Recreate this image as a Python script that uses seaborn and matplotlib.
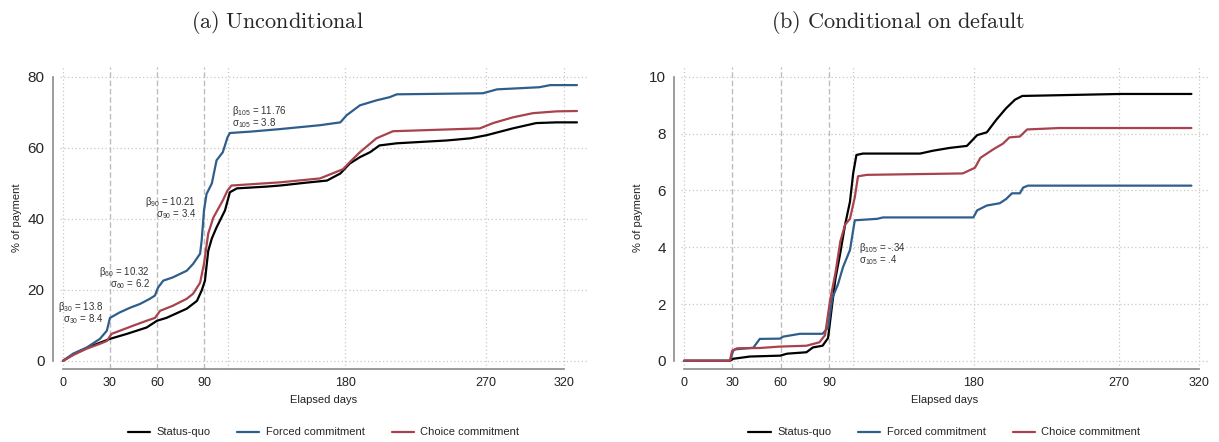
import numpy as np
import pandas as pd
import matplotlib
matplotlib.use("Agg")
import matplotlib.pyplot as plt
from matplotlib.lines import Line2D
import seaborn as sns

# ---------------- data ----------------
series_names = ["Status-quo", "Forced commitment", "Choice commitment"]
panel_titles = ["(a) Unconditional", "(b) Conditional on default"]
x_ticks = [0, 30, 60, 90, 180, 270, 320]

# Panel (a): unconditional
sq_a_days = [0, 8, 16, 23.6, 30, 40.8, 53.4, 60, 66, 79, 85.5, 88.5, 90.6, 92.7, 95, 98, 103.4,
             106.5, 111, 130, 138.5, 155, 168.5, 177, 183, 189.5, 196, 202, 213, 245, 260, 270.5,
             287, 302, 315, 328]
sq_a_pct = [0, 2.2, 3.8, 5.1, 6.2, 7.6, 9.4, 11.3, 12.1, 14.7, 16.9, 19.8, 22.6, 31, 34.5, 37.6, 42.4,
            47.5, 48.6, 49.1, 49.4, 50.2, 50.8, 52.8, 55.6, 57.4, 58.8, 60.7, 61.3, 62.1, 62.7, 63.6,
            65.5, 67.0, 67.2, 67.2]

fc_a_days = [0, 6.4, 15, 23.6, 28, 30, 36, 43, 49, 55.5, 58.7, 60.6, 64, 70, 79, 83, 87.5, 88.5, 90,
             91.6, 95, 98, 102, 105, 106.5, 120, 138.5, 164, 177, 181, 189.5, 200, 208.5, 213, 268,
             277, 304, 311, 328]
fc_a_pct = [0, 2.0, 3.7, 6.2, 8.5, 12.1, 13.6, 15.0, 16.0, 17.5, 18.4, 20.6, 22.6, 23.5, 25.4, 27.3,
            30.2, 33.9, 42.4, 47, 50, 56.5, 58.8, 63, 64.2, 64.6, 65.3, 66.4, 67.2, 69.2, 72, 73.4,
            74.3, 75.1, 75.4, 76.5, 77.1, 77.7, 77.7]

cc_a_days = [0, 6.4, 15, 23.6, 28, 31, 36.4, 44.7, 53.4, 58.7, 62, 70, 79, 83, 87.5, 90, 92.7, 96,
             102, 105, 107.5, 138.5, 164, 178.7, 183, 189.5, 200, 210.6, 266, 274.5, 287, 300, 315, 328]
cc_a_pct = [0, 1.6, 3.4, 4.8, 5.6, 7.6, 8.5, 9.9, 11.3, 12.1, 14.1, 15.5, 17.5, 18.9, 22, 27.4, 35.9,
            40.4, 45.2, 48, 49.4, 50.3, 51.4, 54, 56, 58.8, 62.7, 64.7, 65.5, 67, 68.6, 69.8, 70.3, 70.4]

# Panel (b): conditional on default
sq_b_days = [0, 28.5, 30.5, 41, 59.6, 64, 76, 80, 86, 89.4, 92, 94, 97, 100, 103, 105, 107, 111,
             146.5, 154.5, 165, 175.6, 182, 188, 194, 200, 205.5, 210, 271, 315]
sq_b_pct = [0, 0, 0.07, 0.15, 0.18, 0.25, 0.3, 0.47, 0.53, 0.8, 2.0, 2.9, 3.8, 4.8, 5.6, 6.6, 7.25,
            7.3, 7.3, 7.4, 7.5, 7.57, 7.95, 8.05, 8.5, 8.9, 9.2, 9.33, 9.4, 9.4]

fc_b_days = [0, 28.5, 30.5, 31.6, 43, 47, 59.6, 61.5, 72, 86, 89.4, 92, 95.6, 98.7, 103, 106, 119.8,
             123.5, 179.6, 182, 188, 196, 200, 203.6, 208.5, 210.5, 213.5, 315]
fc_b_pct = [0, 0, 0.35, 0.4, 0.46, 0.77, 0.78, 0.85, 0.95, 0.95, 1.17, 2.2, 2.7, 3.3, 3.9, 4.95, 5.0,
            5.05, 5.05, 5.3, 5.47, 5.55, 5.7, 5.9, 5.9, 6.1, 6.17, 6.17]

cc_b_days = [0, 28.5, 29.8, 33, 47, 59.6, 76, 84, 87.5, 90.6, 94, 97, 100, 103, 106, 108, 113.5, 173,
             180.6, 184, 192, 198, 202, 208.5, 213, 233, 315]
cc_b_pct = [0, 0, 0.35, 0.44, 0.45, 0.5, 0.53, 0.65, 0.9, 2.1, 3.1, 4.2, 4.8, 5.0, 5.76, 6.5, 6.55,
            6.6, 6.8, 7.15, 7.45, 7.65, 7.87, 7.9, 8.15, 8.2, 8.2]

# annotations: (x, y-center, two-line text, alignment)
ann_a = [(25.5, 13.45, "β$_{30}$ = 13.8\nσ$_{30}$ = 8.4", "right"),
         (55.5, 23.35, "β$_{60}$ = 10.32\nσ$_{60}$ = 6.2", "right"),
         (84.9, 43.05, "β$_{90}$ = 10.21\nσ$_{90}$ = 3.4", "right"),
         (107.8, 68.6, "β$_{105}$ = 11.76\nσ$_{105}$ = 3.8", "left")]
ann_b = [(108.6, 3.75, "β$_{105}$ = -.34\nσ$_{105}$ = .4", "left")]

# ---------------- styling ----------------
sns.set_theme(style="white")
plt.rcParams["font.family"] = ["Liberation Sans", "DejaVu Sans"]
plt.rcParams["mathtext.fontset"] = "custom"
plt.rcParams["mathtext.rm"] = "Liberation Sans"
plt.rcParams["mathtext.it"] = "Liberation Sans"
plt.rcParams["mathtext.default"] = "regular"

colors = {"Status-quo": "#000000", "Forced commitment": "#2f5e8c", "Choice commitment": "#a8424c"}
GRID = "#c8c8c8"
SPINE = "#8a8a8a"

W, H = 1219, 442
fig = plt.figure(figsize=(W / 100, H / 100), dpi=100)
ax_a = fig.add_axes([60 / W, 1 - 369 / H, 527 / W, 302 / H])
ax_b = fig.add_axes([681 / W, 1 - 369 / H, 527 / W, 302 / H])


def make_df(days_list, pct_list):
    frames = []
    for name, d, p in zip(series_names, days_list, pct_list):
        frames.append(pd.DataFrame({"day": d, "pct": p, "group": name}))
    return pd.concat(frames, ignore_index=True)


df_a = make_df([sq_a_days, fc_a_days, cc_a_days], [sq_a_pct, fc_a_pct, cc_a_pct])
df_b = make_df([sq_b_days, fc_b_days, cc_b_days], [sq_b_pct, fc_b_pct, cc_b_pct])

panels = [
    (ax_a, df_a, [0, 20, 40, 60, 80], (-1.9, 334.4), (-2.3, 82.8), ann_a),
    (ax_b, df_b, [0, 2, 4, 6, 8, 10], (-1.9, 325.3), (-0.29, 10.35), ann_b),
]

for ax, df, yticks, xlim, ylim, anns in panels:
    # grid
    for xt in [0, 105, 180, 270, 320]:
        ax.axvline(xt, color=GRID, lw=0.9, ls=(0, (1, 2)), zorder=0)
    for yt in yticks:
        ax.axhline(yt, color=GRID, lw=0.9, ls=(0, (1, 2)), zorder=0)
    for xt in [30, 60, 90]:
        ax.axvline(xt, color="#bdbdbd", lw=1.0, ls=(0, (4, 2)), zorder=0)

    sns.lineplot(data=df, x="day", y="pct", hue="group", hue_order=series_names,
                 palette=colors, linewidth=1.6, ax=ax, legend=False, sort=True,
                 estimator=None, zorder=3)

    for x, y, t, ha in anns:
        ax.text(x, y, t, ha=ha, va="center", multialignment=ha, fontsize=7,
                linespacing=0.8, color="#333333")

    ax.set_xlim(*xlim)
    ax.set_ylim(*ylim)
    ax.set_xticks(x_ticks)
    ax.set_yticks(yticks)
    ax.set_xticklabels([str(v) for v in x_ticks], fontsize=9, color="#222222")
    ax.set_yticklabels([str(v) for v in yticks], fontsize=9, color="#222222")
    ax.set_xlabel("Elapsed days", fontsize=8, color="#222222", labelpad=4)
    ax.set_ylabel("% of payment", fontsize=8, color="#222222", labelpad=4)
    ax.grid(False)

    for s in ["top", "right"]:
        ax.spines[s].set_visible(False)
    ax.spines["left"].set_position(("outward", 5))
    ax.spines["left"].set_bounds(yticks[0], yticks[-1])
    ax.spines["bottom"].set_bounds(0, 320)
    for s in ["left", "bottom"]:
        ax.spines[s].set_color(SPINE)
        ax.spines[s].set_linewidth(1.2)
    ax.tick_params(axis="both", direction="out", length=4, width=1.0, color=SPINE, pad=2)

    handles = [Line2D([0], [0], color=colors[n], lw=1.6) for n in series_names]
    ax.legend(handles, series_names, loc="center", bbox_to_anchor=(0.5, -0.21),
              ncol=3, frameon=False, fontsize=8, handlelength=2.0, handletextpad=0.6,
              columnspacing=2.4)

fig.text(277 / W, 1 - 22 / H, r"$\mathrm{(a)\ Unconditional}$", ha="center", va="center",
         fontsize=16, math_fontfamily="cm")
fig.text(898 / W, 1 - 22 / H, r"$\mathrm{(b)\ Conditional\ on\ default}$", ha="center",
         va="center", fontsize=16, math_fontfamily="cm")

fig.savefig("out.png", dpi=100)
